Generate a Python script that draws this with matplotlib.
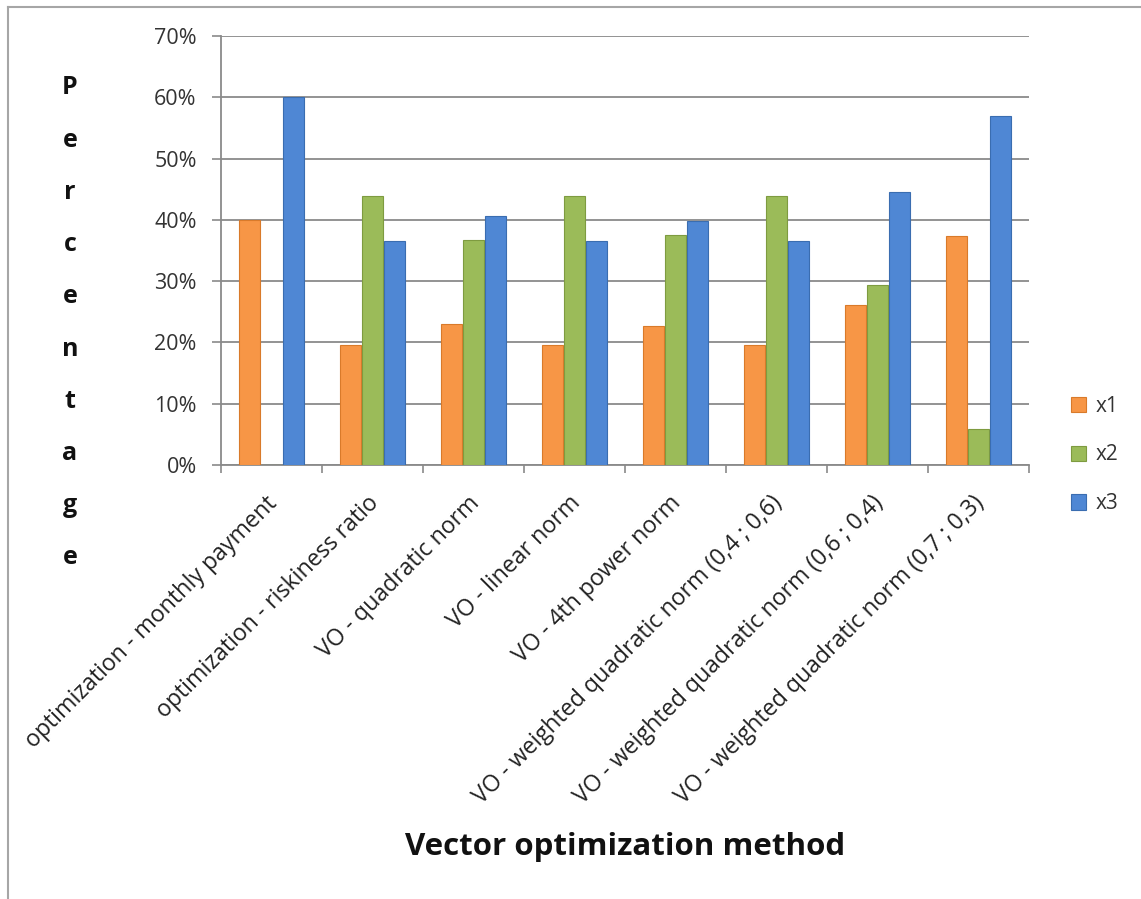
"""
Share of x1, x2, x3 per optimization method
"""
import matplotlib.pyplot as plt
import matplotlib.transforms as mtransforms
from matplotlib.lines import Line2D
from matplotlib.ticker import FuncFormatter
import numpy as np

plt.rcParams['font.family'] = ['Open Sans', 'DejaVu Sans']

methods = [
    'optimization - monthly payment',
    'optimization - riskiness ratio',
    'VO - quadratic norm',
    'VO - linear norm',
    'VO - 4th power norm',
    'VO - weighted quadratic norm (0,4 ; 0,6)',
    'VO - weighted quadratic norm (0,6 ; 0,4)',
    'VO - weighted quadratic norm (0,7 ; 0,3)',
]
x1 = [40.0, 19.6, 23.0, 19.6, 22.6, 19.6, 26.1, 37.3]
x2 = [0.0, 43.9, 36.7, 43.9, 37.5, 43.9, 29.3, 5.8]
x3 = [60.0, 36.6, 40.6, 36.6, 39.8, 36.6, 44.5, 56.9]
series_names = ['x1', 'x2', 'x3']
colors = ['#F79646', '#9BBB59', '#4F87D4']
edges = ['#D97A2A', '#7E9B40', '#3A6DB0']

W, H = 1141, 899
fig = plt.figure(figsize=(W / 100, H / 100), dpi=100)
ax = fig.add_axes([221 / W, 1 - 465 / H, 808 / W, 429 / H])

idx = np.arange(len(methods))
bw = 0.21
for k, vals in enumerate([x1, x2, x3]):
    ax.bar(idx + (k - 1) * 0.215, vals, width=bw, color=colors[k],
           edgecolor=edges[k], linewidth=0.8, label=series_names[k], zorder=3)

ax.set_xlim(-0.5, len(methods) - 0.5)
ax.set_ylim(0, 70)
ax.set_yticks(range(0, 71, 10))
ax.yaxis.set_major_formatter(FuncFormatter(lambda v, p: f'{v:.0f}%'))
ax.grid(axis='y', color='#8a8a8a', linewidth=1.3, zorder=0)
ax.tick_params(axis='y', length=6.5, width=1.2, color='#8a8a8a', pad=11,
               labelsize=15.5, labelcolor='#333333')

# category labels on major ticks, boundary ticks as minor
ax.set_xticks(idx)
ax.set_xticklabels(methods, rotation=45, ha='right', va='top',
                   rotation_mode='anchor', fontsize=16.7, color='#222222')
ax.set_xticks(np.arange(-0.5, len(methods), 1), minor=True)
ax.tick_params(axis='x', which='major', length=0, pad=19)
ax.tick_params(axis='x', which='minor', length=6, width=1.2, color='#8a8a8a')
shift = mtransforms.ScaledTranslation(-6 / 100, 0, fig.dpi_scale_trans)
for lbl in ax.get_xticklabels():
    lbl.set_transform(lbl.get_transform() + shift)

for s in ['top', 'right']:
    ax.spines[s].set_visible(False)
for s in ['left', 'bottom']:
    ax.spines[s].set_color('#8a8a8a')
    ax.spines[s].set_linewidth(1.3)

# vertical stacked y label
for i, ch in enumerate('Percentage'):
    fig.text(70 / W, 1 - (88 + i * 52.2) / H, ch, ha='center', va='center',
             fontsize=18, fontweight='bold', color='#111111')

fig.text(625 / W, 1 - 847 / H, 'Vector optimization method', ha='center',
         va='center', fontsize=22.5, fontweight='bold', color='#111111')

fig.legend(loc='center left', bbox_to_anchor=(1052 / W, 1 - 455 / H),
           frameon=False, fontsize=15, handlelength=0.75, handleheight=0.75,
           handletextpad=0.45, labelspacing=1.33, labelcolor='#333333')

# chart area border (left and top edges visible)
fig.add_artist(Line2D([8 / W, 8 / W], [0, 1 - 7 / H], transform=fig.transFigure,
                      color='#a6a6a6', linewidth=1.5))
fig.add_artist(Line2D([8 / W, 1], [1 - 7 / H, 1 - 7 / H], transform=fig.transFigure,
                      color='#a6a6a6', linewidth=1.5))

fig.savefig('out.png', dpi=100)
